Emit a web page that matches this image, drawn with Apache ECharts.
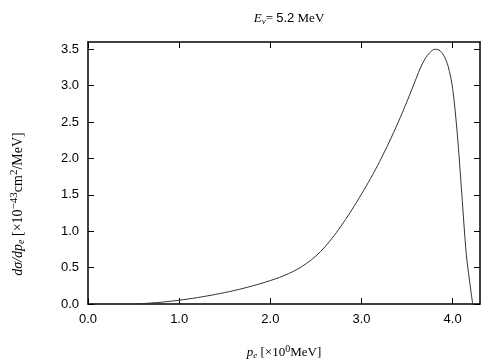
<!DOCTYPE html>
<html>
<head>
<meta charset="utf-8">
<script src="https://cdn.jsdelivr.net/npm/echarts@6/dist/echarts.min.js"></script>
<style>body{margin:0;background:#fff}#c{width:504px;height:360px}</style>
</head>
<body>
<div id="c"></div>
<script>
// electron momentum p_e [MeV] and dσ/dp_e [1e-43 cm^2/MeV]
const pe = [0.5, 0.6, 0.7, 0.8, 0.9, 1.0, 1.1, 1.2, 1.3, 1.4, 1.5, 1.6, 1.7, 1.8, 1.9,
  2.0, 2.1, 2.2, 2.3, 2.4, 2.5, 2.6, 2.7, 2.8, 2.9, 3.0, 3.1, 3.2, 3.3, 3.4, 3.5,
  3.6, 3.65, 3.7, 3.75, 3.8, 3.85, 3.9, 3.95, 4.0, 4.05, 4.1, 4.15, 4.2, 4.22];
const dsig = [0.0, 0.006, 0.014, 0.024, 0.037, 0.052, 0.069, 0.088, 0.109, 0.132, 0.157, 0.184, 0.214, 0.247, 0.283,
  0.322, 0.365, 0.417, 0.48, 0.56, 0.66, 0.785, 0.94, 1.115, 1.305, 1.51, 1.725, 1.96, 2.215, 2.49, 2.785,
  3.10, 3.255, 3.375, 3.455, 3.50, 3.49, 3.42, 3.27, 2.96, 2.35, 1.52, 0.68, 0.18, 0.0];
const xTicks = [0, 1, 2, 3, 4];
const yTicks = [0, 0.5, 1.0, 1.5, 2.0, 2.5, 3.0, 3.5];

const serif = "'Liberation Serif', 'DejaVu Serif', serif";
const sans = "'Liberation Sans', Arial, sans-serif";

const chart = echarts.init(document.getElementById("c"), null, { renderer: "canvas" });

const axisBase = {
  type: "value",
  axisLine: { show: true, onZero: false, lineStyle: { color: "#000", width: 1.5 } },
  axisTick: { show: true, inside: true, length: 6, lineStyle: { color: "#000", width: 1 } },
  splitLine: { show: false }
};

function richSet(size) {
  return {
    i: { fontFamily: serif, fontStyle: "italic", fontWeight: "normal", fontSize: size, color: "#000" },
    sub: { fontFamily: serif, fontStyle: "italic", fontWeight: "normal", fontSize: size - 4, color: "#000", padding: [6, 0, 0, 0] },
    n: { fontFamily: serif, fontWeight: "normal", fontSize: size, color: "#000" },
    s: { fontFamily: sans, fontWeight: "normal", fontSize: size, color: "#000" },
    sup: { fontFamily: serif, fontWeight: "normal", fontSize: size - 3, color: "#000", padding: [0, 0, 8, 0] }
  };
}

chart.setOption({
  animation: false,
  backgroundColor: "#fff",
  title: {
    text: "{i|E}{sub|ν}{n|= }{s|5.2}{n| MeV}",
    left: 284, top: 6, textAlign: "center",
    textStyle: { fontWeight: "normal", rich: richSet(13) }
  },
  graphic: [{
    type: "text",
    x: 18, y: 204, rotation: Math.PI / 2,
    style: {
      text: "{i|dσ/dp}{sub|e}{n| [×10}{sup|−43}{n|cm}{sup|2}{n|/MeV]}",
      rich: richSet(14),
      align: "center", verticalAlign: "middle"
    }
  }],
  grid: { left: 88, right: 24, top: 42, bottom: 56, outerBoundsMode: "none", containLabel: false },
  xAxis: [
    Object.assign({}, axisBase, {
      min: 0, max: 4.3, position: "bottom",
      axisTick: Object.assign({}, axisBase.axisTick, { customValues: xTicks }),
      axisLabel: { customValues: xTicks, formatter: v => v.toFixed(1), fontFamily: sans, fontSize: 13, color: "#000", margin: 9 },
      name: "{i|p}{sub|e}{n| [×10}{sup|0}{n|MeV]}",
      nameLocation: "middle", nameGap: 40,
      nameTextStyle: { rich: richSet(13) }
    }),
    Object.assign({}, axisBase, {
      min: 0, max: 4.3, position: "top",
      axisTick: Object.assign({}, axisBase.axisTick, { customValues: xTicks }),
      axisLabel: { show: false }
    })
  ],
  yAxis: [
    Object.assign({}, axisBase, {
      min: 0, max: 3.6, position: "left",
      axisTick: Object.assign({}, axisBase.axisTick, { customValues: yTicks }),
      axisLabel: { customValues: yTicks, formatter: v => v.toFixed(1), fontFamily: sans, fontSize: 13, color: "#000", margin: 9 }
    }),
    Object.assign({}, axisBase, {
      min: 0, max: 3.6, position: "right",
      axisTick: Object.assign({}, axisBase.axisTick, { customValues: yTicks }),
      axisLabel: { show: false }
    })
  ],
  series: [{
    type: "line",
    data: pe.map((x, i) => [x, dsig[i]]),
    smooth: 0.3,
    showSymbol: false,
    lineStyle: { color: "#333", width: 1 },
    clip: true
  }]
});
</script>
</body>
</html>
